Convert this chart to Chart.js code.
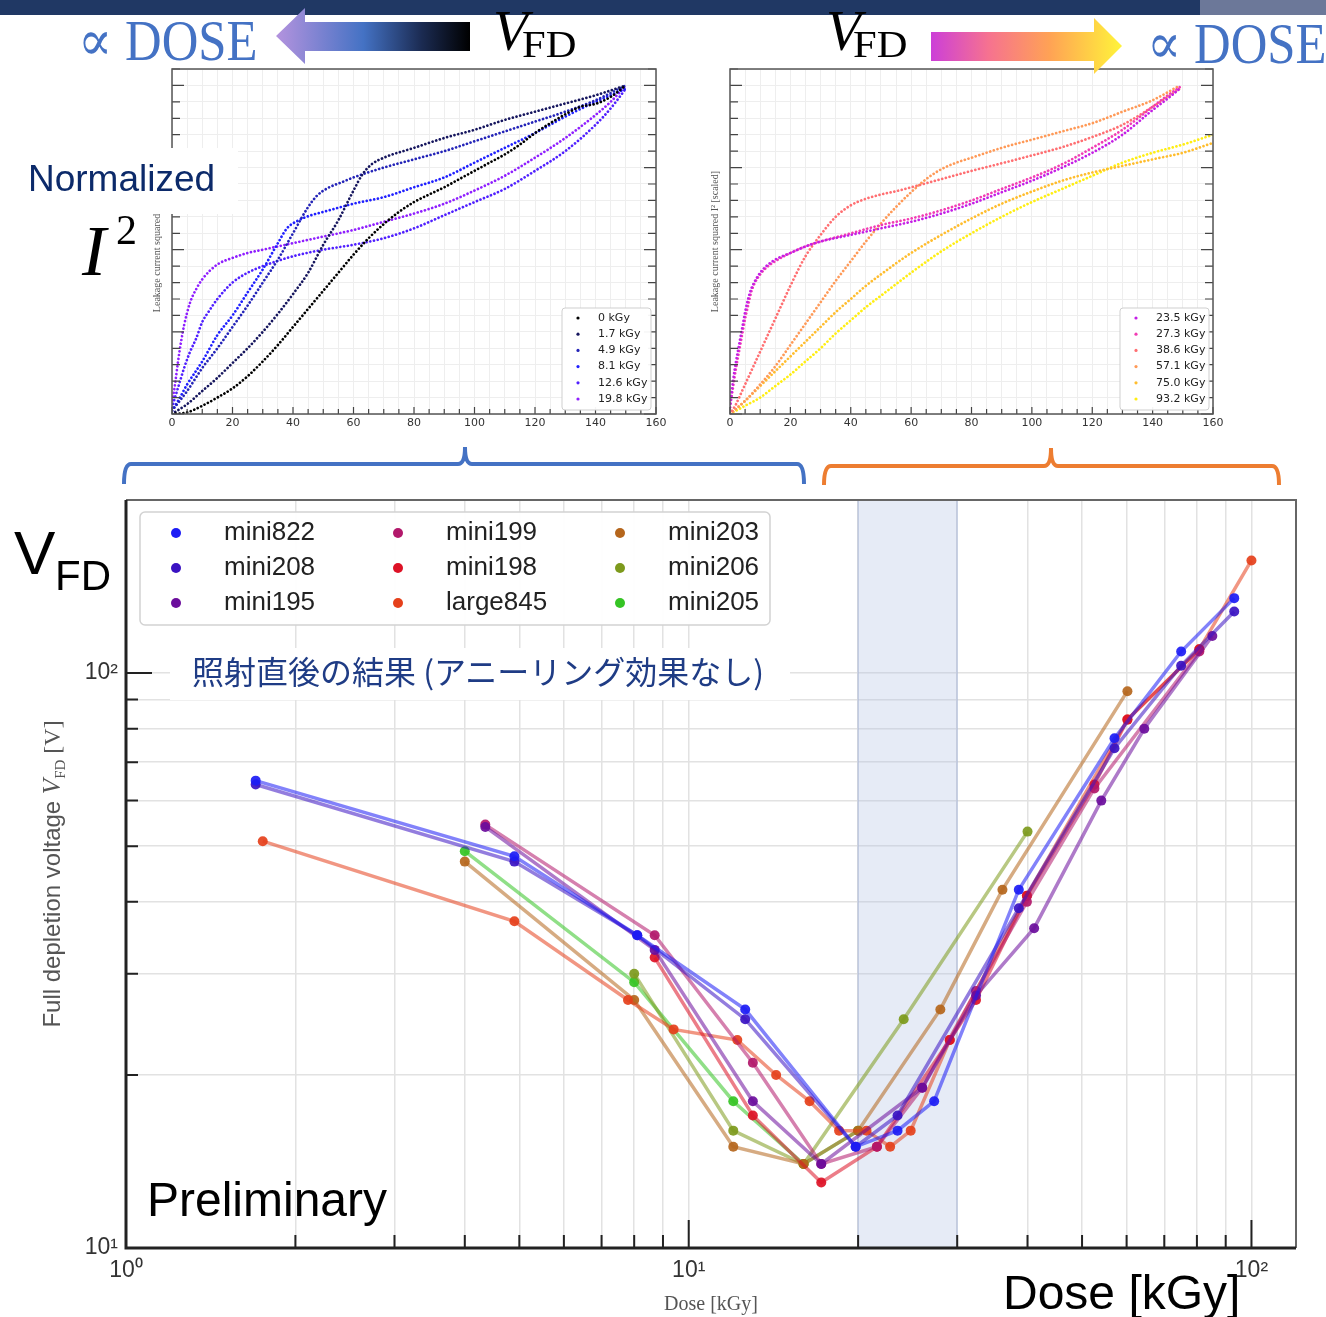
<!DOCTYPE html>
<html>
<head>
<meta charset="utf-8">
<script src="https://cdn.jsdelivr.net/npm/chart.js@4.4.1/dist/chart.umd.min.js"></script>
<style>
  html, body { margin: 0; padding: 0; background: #fff; }
  body { width: 1326px; height: 1317px; position: relative; overflow: hidden; font-family: "Liberation Sans", Arial, sans-serif; }
  canvas, .abs { position: absolute; }
  .t { position: absolute; white-space: nowrap; line-height: 1; }
  .serif { font-family: "Liberation Serif", "DejaVu Serif", serif; }
</style>
</head>
<body>
<div class="abs" style="left:0;top:0;width:1200px;height:15px;background:#203864"></div>
<div class="abs" style="left:1200px;top:0;width:126px;height:15px;background:#6c7899"></div>

<canvas id="ivLow" width="530" height="380" style="left:140px;top:60px"></canvas>
<canvas id="ivHigh" width="530" height="380" style="left:700px;top:60px"></canvas>
<canvas id="vfd" width="1326" height="827" style="left:0;top:490px"></canvas>

<svg class="abs" style="left:0;top:0" width="1326" height="1317">
  <defs>
    <linearGradient id="gL" gradientUnits="userSpaceOnUse" x1="276" y1="0" x2="470" y2="0">
      <stop offset="0" stop-color="#b493de"/>
      <stop offset="0.45" stop-color="#4472c4"/>
      <stop offset="0.75" stop-color="#1b2b52"/>
      <stop offset="1" stop-color="#000"/>
    </linearGradient>
    <linearGradient id="gR" gradientUnits="userSpaceOnUse" x1="931" y1="0" x2="1122" y2="0">
      <stop offset="0" stop-color="#cc3fd8"/>
      <stop offset="0.3" stop-color="#f67290"/>
      <stop offset="0.62" stop-color="#ffa255"/>
      <stop offset="1" stop-color="#fff43a"/>
    </linearGradient>
  </defs>
  <polygon points="276,36 305,8 305,22 470,22 470,51 305,51 305,64" fill="url(#gL)"/>
  <polygon points="931,32 1094,32 1094,18 1122,46 1094,74 1094,61 931,61" fill="url(#gR)"/>
  <path d="M124,484 Q124,464 131,464 L458,464 Q465,464 465,447 Q465,464 472,464 L797,464 Q804,464 804,484" fill="none" stroke="#4472c4" stroke-width="4"/>
  <path d="M824,485 Q824,466 831,466 L1044,466 Q1051,466 1051,448 Q1051,466 1058,466 L1272,466 Q1279,466 1279,485" fill="none" stroke="#ed7d31" stroke-width="4"/>
</svg>

<div class="t serif" style="left:78px;top:12px;font-size:57px;color:#4472c4;transform:scaleX(0.89);transform-origin:0 0">∝ DOSE</div>
<div class="t serif" style="left:1147px;top:15px;font-size:57px;color:#4472c4;transform:scaleX(0.89);transform-origin:0 0">∝ DOSE</div>
<div class="t serif" style="left:493px;top:2px;font-size:57px;font-style:italic">V</div>
<div class="t serif" style="left:522px;top:26px;font-size:37px;transform:scaleX(1.15);transform-origin:0 0">FD</div>
<div class="t serif" style="left:826px;top:2px;font-size:57px;font-style:italic">V</div>
<div class="t serif" style="left:853px;top:26px;font-size:37px;transform:scaleX(1.15);transform-origin:0 0">FD</div>

<div class="abs" style="left:0;top:148px;width:238px;height:66px;background:#fff"></div>
<div class="t" style="left:28px;top:160px;font-size:37px;color:#0c2a6a">Normalized</div>
<div class="t serif" style="left:82px;top:215px;font-size:72px;font-style:italic">I</div>
<div class="t serif" style="left:116px;top:209px;font-size:42px">2</div>

<div class="t" style="left:14px;top:522px;font-size:62px">V</div>
<div class="t" style="left:55px;top:555px;font-size:42px">FD</div>

<div class="abs" style="left:170px;top:648px;width:620px;height:52px;background:#fff"></div>
<div class="t" style="left:192px;top:654px;font-size:32px;color:#1f3c85;font-family:'Noto Sans CJK JP',sans-serif">照射直後の結果 (アニーリング効果なし)</div>

<div class="t" style="left:147px;top:1176px;font-size:48px">Preliminary</div>
<div class="t" style="left:1003px;top:1269px;font-size:48px">Dose [kGy]</div>

<script>
// ---------- top panels: normalised I^2 vs bias voltage ----------
const topXLabels = [0, 20, 40, 60, 80, 100, 120, 140, 160];

const lowNames = ["0 kGy", "1.7 kGy", "4.9 kGy", "8.1 kGy", "12.6 kGy", "19.8 kGy"];
const lowColors = ["#000000", "#16165e", "#2424b8", "#2020ff", "#5020ff", "#8f1fff"];
const v_0 = [0, 5, 10, 15, 20, 25, 30, 35, 40, 45, 50, 55, 60, 65, 70, 75, 80, 85, 90, 95, 100, 105, 110, 115, 120, 125, 130, 135, 140, 145, 150];
const i2_0 = [0, 0.005, 0.025, 0.05, 0.078, 0.115, 0.16, 0.21, 0.265, 0.32, 0.375, 0.43, 0.485, 0.535, 0.578, 0.615, 0.645, 0.668, 0.69, 0.715, 0.74, 0.765, 0.79, 0.82, 0.855, 0.885, 0.912, 0.935, 0.944, 0.965, 1.0];
const v_1p7 = [0, 5, 10, 15, 20, 25, 30, 35, 40, 45, 50, 55, 60, 63, 66, 70, 80, 90, 100, 110, 120, 130, 140, 150];
const i2_1p7 = [0, 0.03, 0.07, 0.11, 0.155, 0.2, 0.25, 0.305, 0.365, 0.43, 0.515, 0.59, 0.68, 0.73, 0.76, 0.78, 0.81, 0.84, 0.865, 0.895, 0.92, 0.945, 0.97, 1.0];
const v_4p9 = [0, 5, 10, 15, 20, 25, 30, 35, 40, 45, 48, 52, 56, 60, 70, 80, 90, 100, 110, 120, 130, 140, 150];
const i2_4p9 = [0.01, 0.07, 0.14, 0.2, 0.265, 0.33, 0.4, 0.47, 0.55, 0.63, 0.665, 0.69, 0.705, 0.72, 0.75, 0.775, 0.8, 0.83, 0.86, 0.89, 0.92, 0.955, 1.0];
const v_8p1 = [0, 2, 5, 10, 15, 20, 25, 30, 35, 38, 42, 46, 50, 60, 70, 80, 90, 100, 110, 120, 130, 140, 150];
const i2_8p1 = [0.01, 0.04, 0.09, 0.16, 0.24, 0.3, 0.37, 0.44, 0.52, 0.565, 0.59, 0.605, 0.615, 0.64, 0.66, 0.69, 0.72, 0.765, 0.81, 0.855, 0.905, 0.95, 0.99];
const v_12p6 = [0, 2, 4, 6, 8, 10, 12, 15, 20, 25, 30, 40, 50, 60, 70, 80, 90, 100, 110, 120, 130, 140, 145, 150];
const i2_12p6 = [0.02, 0.08, 0.14, 0.19, 0.23, 0.28, 0.31, 0.35, 0.4, 0.43, 0.45, 0.48, 0.5, 0.515, 0.535, 0.565, 0.605, 0.645, 0.685, 0.74, 0.8, 0.88, 0.93, 0.99];
const v_19p8 = [0, 1, 2, 3, 4, 6, 8, 10, 15, 20, 25, 30, 40, 50, 60, 70, 80, 90, 100, 110, 120, 130, 140, 145, 150];
const i2_19p8 = [0.03, 0.09, 0.16, 0.22, 0.27, 0.34, 0.38, 0.41, 0.455, 0.475, 0.49, 0.5, 0.52, 0.54, 0.56, 0.585, 0.61, 0.64, 0.68, 0.725, 0.78, 0.84, 0.91, 0.95, 1.0];

const highNames = ["23.5 kGy", "27.3 kGy", "38.6 kGy", "57.1 kGy", "75.0 kGy", "93.2 kGy"];
const highColors = ["#c41ee6", "#f23cb4", "#ff6f72", "#ff9a58", "#ffbd2e", "#ffee12"];
const v_23p5 = [0, 1, 2, 3, 4, 5, 6, 7, 8, 10, 12, 15, 20, 25, 30, 40, 50, 60, 70, 80, 90, 100, 110, 120, 130, 140, 145, 149];
const i2_23p5 = [0.02, 0.1, 0.16, 0.21, 0.26, 0.31, 0.35, 0.38, 0.4, 0.43, 0.45, 0.47, 0.49, 0.51, 0.525, 0.545, 0.565, 0.585, 0.61, 0.64, 0.675, 0.71, 0.75, 0.795, 0.85, 0.925, 0.96, 0.99];
const v_27p3 = [0, 1, 2, 3, 4, 5, 6, 7, 8, 10, 12, 15, 20, 25, 30, 40, 50, 60, 70, 80, 90, 100, 110, 120, 130, 140, 145, 149];
const i2_27p3 = [0.02, 0.08, 0.14, 0.19, 0.24, 0.29, 0.33, 0.37, 0.395, 0.425, 0.445, 0.465, 0.49, 0.51, 0.525, 0.55, 0.575, 0.595, 0.62, 0.65, 0.685, 0.72, 0.76, 0.81, 0.865, 0.935, 0.97, 0.995];
const v_38p6 = [0, 2, 4, 6, 8, 10, 12, 15, 20, 25, 30, 35, 40, 45, 50, 55, 60, 70, 80, 90, 100, 110, 120, 130, 140, 149];
const i2_38p6 = [0, 0.03, 0.07, 0.11, 0.15, 0.19, 0.23, 0.29, 0.39, 0.48, 0.545, 0.6, 0.635, 0.655, 0.668, 0.678, 0.69, 0.715, 0.74, 0.763, 0.787, 0.812, 0.843, 0.88, 0.935, 0.99];
const v_57p1 = [0, 5, 10, 15, 20, 25, 30, 35, 40, 45, 50, 55, 60, 65, 70, 75, 80, 90, 100, 110, 120, 130, 140, 149];
const i2_57p1 = [0, 0.04, 0.09, 0.145, 0.21, 0.275, 0.34, 0.405, 0.465, 0.525, 0.58, 0.63, 0.675, 0.715, 0.745, 0.765, 0.78, 0.81, 0.835, 0.86, 0.885, 0.92, 0.955, 1.0];
const v_75p0 = [0, 5, 10, 15, 20, 25, 30, 35, 40, 45, 50, 60, 70, 80, 90, 100, 110, 120, 130, 140, 150, 160];
const i2_75p0 = [0, 0.04, 0.085, 0.13, 0.175, 0.22, 0.265, 0.31, 0.35, 0.39, 0.425, 0.49, 0.545, 0.595, 0.64, 0.677, 0.71, 0.735, 0.755, 0.775, 0.795, 0.825];
const v_93p2 = [0, 5, 10, 15, 20, 25, 30, 35, 40, 45, 50, 60, 70, 80, 90, 100, 110, 120, 130, 140, 150, 160];
const i2_93p2 = [0, 0.025, 0.05, 0.085, 0.12, 0.16, 0.2, 0.245, 0.285, 0.325, 0.36, 0.43, 0.495, 0.55, 0.6, 0.645, 0.685, 0.725, 0.765, 0.795, 0.82, 0.85];

// ---------- bottom panel: V_FD vs dose ----------
const mini822Dose = [1.7, 4.9, 8.1, 12.6, 19.8, 23.5, 27.3, 38.6, 57.1, 75.0, 93.2];
const mini822Vfd = [65, 48, 35, 26, 15, 16, 18, 42, 77, 109, 135];
const mini208Dose = [1.7, 4.9, 8.1, 12.6, 19.8, 23.5, 38.6, 57.1, 75.0, 93.2];
const mini208Vfd = [64, 47, 35, 25, 15, 17, 39, 74, 103, 128];
const mini195Dose = [4.35, 8.7, 13.0, 17.2, 26.0, 32.4, 41.1, 54.1, 64.5, 85.2];
const mini195Vfd = [54, 33, 18, 14, 19, 27.5, 36, 60, 80, 116];
const mini199Dose = [4.35, 8.7, 13.0, 17.2, 21.6, 26.0, 32.4, 39.9, 52.6, 80.8];
const mini199Vfd = [54.5, 35, 21, 14, 15, 19, 28, 40, 63, 109];
const mini198Dose = [8.7, 13.0, 17.2, 21.6, 29.1, 32.4, 39.9, 52.6, 60.2, 80.8];
const mini198Vfd = [32, 17, 13, 15, 23, 27, 41, 64, 83, 110];
const large845Dose = [1.75, 4.9, 7.8, 9.4, 12.2, 14.3, 16.4, 18.5, 20.7, 22.8, 24.8, 29.1, 39.9, 60.2, 80.8, 100];
const large845Vfd = [51, 37, 27, 24, 23, 20, 18, 16, 16, 15, 16, 23, 41, 83, 110, 157];
const mini203Dose = [4.0, 8.0, 12.0, 16.0, 20.0, 28.0, 36.1, 60.2];
const mini203Vfd = [47, 27, 15, 14, 16, 26, 42, 93];
const mini206Dose = [8.0, 12.0, 16.0, 24.1, 40.0];
const mini206Vfd = [30, 16, 14, 25, 53];
const mini205Dose = [4.0, 8.0, 12.0, 16.0, 20.0];
const mini205Vfd = [49, 29, 18, 14, 16];

const sensorNames = ["mini822", "mini208", "mini195", "mini199", "mini198", "large845", "mini203", "mini206", "mini205"];
const sensorColors = ["#1c1cf5", "#3a12c2", "#6b0d9c", "#b2186b", "#dd1226", "#e5401b", "#b5661c", "#7d9a1c", "#35c424"];

const doseTicks = [1, 2, 3, 4, 5, 6, 7, 8, 9, 10, 20, 30, 40, 50, 60, 70, 80, 90, 100];
const doseTickLabels = { 1: "10\u2070", 10: "10\u00b9", 100: "10\u00b2" };
const vfdTicks = [10, 20, 30, 40, 50, 60, 70, 80, 90, 100, 200];
const vfdTickLabels = { 10: "10\u00b9", 100: "10\u00b2" };
const annealBand = [20, 30];

Chart.defaults.font.family = '"Liberation Sans", Arial, sans-serif';
Chart.defaults.animation = false;

function pts(xs, ys) {
    return xs.map((x, i) => ({ x: x, y: ys[i] }));
}
function alpha(hex, a) {
    const n = parseInt(hex.slice(1), 16);
    return "rgba(" + (n >> 16) + "," + ((n >> 8) & 255) + "," + (n & 255) + "," + a + ")";
}
// keep the plot area where the layout padding puts it
function fixWidth(w) {
    return (s) => { s.width = w; s.paddingTop = 0; s.paddingBottom = 0; };
}
function fixHeight(h) {
    return (s) => { s.height = h; s.paddingLeft = 0; s.paddingRight = 0; };
}

// legend drawn inside the plot, laid out column by column
const boxLegend = {
    id: "boxLegend",
    afterDraw(chart, args, o) {
        const ctx = chart.ctx;
        ctx.save();
        ctx.fillStyle = "rgba(255,255,255,0.95)";
        ctx.strokeStyle = o.border;
        ctx.lineWidth = o.lineWidth;
        ctx.beginPath();
        if (ctx.roundRect) ctx.roundRect(o.x, o.y, o.w, o.h, o.radius);
        else ctx.rect(o.x, o.y, o.w, o.h);
        ctx.fill();
        ctx.stroke();
        ctx.font = o.font;
        ctx.textBaseline = "middle";
        chart.data.datasets.forEach((ds, i) => {
            const col = Math.floor(i / o.rows);
            const row = i % o.rows;
            const cx = o.x + o.dotX + col * o.colW;
            const cy = o.y + o.rowY0 + row * o.rowH;
            ctx.fillStyle = ds.legendColor;
            ctx.beginPath();
            ctx.arc(cx, cy, o.dotR, 0, Math.PI * 2);
            ctx.fill();
            ctx.fillStyle = o.color;
            ctx.fillText(ds.label, cx + o.textGap, cy);
        });
        ctx.restore();
    },
};

// frame with inward ticks for the I^2 panels
const topFrame = {
    id: "topFrame",
    afterDatasetsDraw(chart) {
        const { ctx, chartArea: a, scales } = chart;
        ctx.save();
        ctx.strokeStyle = "#444";
        ctx.lineWidth = 1.2;
        ctx.beginPath();
        scales.x.ticks.forEach((t) => {
            const px = scales.x.getPixelForValue(t.value);
            ctx.moveTo(px, a.bottom);
            ctx.lineTo(px, a.bottom - (t.value % 20 === 0 ? 7 : 5));
        });
        scales.y.ticks.forEach((t, k) => {
            const py = scales.y.getPixelForValue(t.value);
            const len = k % 5 === 0 ? 12 : 8;
            ctx.moveTo(a.left, py);
            ctx.lineTo(a.left + len, py);
            ctx.moveTo(a.right, py);
            ctx.lineTo(a.right - len, py);
        });
        ctx.stroke();
        ctx.strokeStyle = "#555";
        ctx.lineWidth = 1.5;
        ctx.strokeRect(a.left, a.top, a.right - a.left, a.bottom - a.top);
        ctx.restore();
    },
};

function ivChart(id, names, colors, volts, vals, axisW, padRight, titlePad, legendX) {
    const datasets = names.map((name, i) => ({
        label: name,
        data: pts(volts[i], vals[i]),
        borderColor: colors[i],
        legendColor: colors[i],
        borderWidth: 2.7,
        borderDash: [0.01, 3.8],
        borderCapStyle: "round",
        cubicInterpolationMode: "monotone",
        pointRadius: 0,
        fill: false,
    }));
    return new Chart(document.getElementById(id), {
        type: "line",
        data: { datasets: datasets },
        options: {
            responsive: false,
            layout: { padding: { top: 9, right: padRight, left: 0, bottom: 0 } },
            plugins: {
                legend: { display: false },
                tooltip: { enabled: false },
                boxLegend: {
                    x: legendX, y: 248, w: 89, h: 102, radius: 3, border: "#cfcfcf", lineWidth: 1,
                    rows: 6, colW: 0, dotX: 16, rowY0: 10, rowH: 16.2, dotR: 1.6, textGap: 20,
                    font: '11px "DejaVu Sans"', color: "#222",
                },
            },
            scales: {
                x: {
                    type: "linear", min: 0, max: 160,
                    afterBuildTicks: (s) => {
                        const t = [];
                        for (let v = 0; v <= 160; v += 5) t.push({ value: v });
                        s.ticks = t;
                    },
                    afterFit: fixHeight(26),
                    grid: { color: "#eeeeee", lineWidth: 1, drawTicks: false },
                    border: { display: false },
                    ticks: {
                        autoSkip: false, maxRotation: 0, padding: 3, color: "#333",
                        font: { family: "DejaVu Sans", size: 11 },
                        callback: (v) => (topXLabels.includes(v) ? String(v) : ""),
                    },
                },
                y: {
                    type: "linear", min: 0, max: 1.05,
                    afterBuildTicks: (s) => {
                        const t = [];
                        for (let k = 0; k <= 21; k++) t.push({ value: k * 0.05 });
                        s.ticks = t;
                    },
                    afterFit: fixWidth(axisW),
                    grid: { color: "#eeeeee", lineWidth: 1, drawTicks: false },
                    border: { display: false },
                    ticks: { display: false },
                    title: {
                        display: true, text: "Leakage current squared I\u00b2 [scaled]", color: "#555",
                        font: { family: "Liberation Serif", size: 10 }, padding: { top: titlePad, bottom: 0 },
                    },
                },
            },
        },
        plugins: [topFrame, boxLegend],
    });
}

ivChart("ivLow", lowNames, lowColors,
    [v_0, v_1p7, v_4p9, v_8p1, v_12p6, v_19p8],
    [i2_0, i2_1p7, i2_4p9, i2_8p1, i2_12p6, i2_19p8], 32, 14, 11, 422);
ivChart("ivHigh", highNames, highColors,
    [v_23p5, v_27p3, v_38p6, v_57p1, v_75p0, v_93p2],
    [i2_23p5, i2_27p3, i2_38p6, i2_57p1, i2_75p0, i2_93p2], 30, 17, 9, 420);

// ---------- V_FD chart ----------
const bandPlugin = {
    id: "band",
    beforeDatasetsDraw(chart) {
        const { ctx, chartArea: a, scales: { x } } = chart;
        const x0 = x.getPixelForValue(annealBand[0]);
        const x1 = x.getPixelForValue(annealBand[1]);
        ctx.save();
        ctx.fillStyle = "rgba(176,192,226,0.32)";
        ctx.fillRect(x0, a.top, x1 - x0, a.bottom - a.top);
        ctx.strokeStyle = "rgba(150,168,210,0.45)";
        ctx.lineWidth = 1.5;
        ctx.beginPath();
        ctx.moveTo(x0, a.top); ctx.lineTo(x0, a.bottom);
        ctx.moveTo(x1, a.top); ctx.lineTo(x1, a.bottom);
        ctx.stroke();
        ctx.restore();
    },
};

const logFrame = {
    id: "logFrame",
    afterDatasetsDraw(chart) {
        const { ctx, chartArea: a, scales: { x, y } } = chart;
        ctx.save();
        ctx.strokeStyle = "#666";
        ctx.lineWidth = 2;
        ctx.beginPath();
        ctx.moveTo(a.left, a.top); ctx.lineTo(a.right, a.top); ctx.lineTo(a.right, a.bottom);
        ctx.stroke();
        ctx.strokeStyle = "#222";
        ctx.lineWidth = 2;
        ctx.beginPath();
        x.ticks.forEach((t) => {
            const px = x.getPixelForValue(t.value);
            ctx.moveTo(px, a.bottom);
            ctx.lineTo(px, a.bottom - (doseTickLabels[t.value] ? 28 : 13));
        });
        y.ticks.forEach((t) => {
            if (t.value >= 200) return;
            const py = y.getPixelForValue(t.value);
            ctx.moveTo(a.left, py);
            ctx.lineTo(a.left + (vfdTickLabels[t.value] ? 26 : 12), py);
        });
        ctx.stroke();
        ctx.lineWidth = 3;
        ctx.beginPath();
        ctx.moveTo(a.left, a.top); ctx.lineTo(a.left, a.bottom); ctx.lineTo(a.right, a.bottom);
        ctx.stroke();
        ctx.restore();
    },
};

const yTitleSub = {
    id: "yTitleSub",
    afterDraw(chart, args, o) {
        const { ctx, chartArea: a } = chart;
        const parts = [
            { t: "Full depletion voltage ", f: '24px "Liberation Sans"', dy: 0 },
            { t: "V", f: 'italic 25px "Liberation Serif"', dy: 0 },
            { t: "FD", f: '15px "Liberation Serif"', dy: 5 },
            { t: " [V]", f: '24px "Liberation Serif"', dy: 0 },
        ];
        ctx.save();
        let total = 0;
        parts.forEach((p) => { ctx.font = p.f; p.w = ctx.measureText(p.t).width; total += p.w; });
        ctx.translate(o.x, (a.top + a.bottom) / 2);
        ctx.rotate(-Math.PI / 2);
        ctx.fillStyle = o.color;
        ctx.textBaseline = "alphabetic";
        let cx = -total / 2;
        parts.forEach((p) => {
            ctx.font = p.f;
            ctx.fillText(p.t, cx, 9 + p.dy);
            cx += p.w;
        });
        ctx.restore();
    },
};

const doseSeries = [
    [mini822Dose, mini822Vfd], [mini208Dose, mini208Vfd], [mini195Dose, mini195Vfd],
    [mini199Dose, mini199Vfd], [mini198Dose, mini198Vfd], [large845Dose, large845Vfd],
    [mini203Dose, mini203Vfd], [mini206Dose, mini206Vfd], [mini205Dose, mini205Vfd],
];

new Chart(document.getElementById("vfd"), {
    type: "line",
    data: {
        datasets: sensorNames.map((name, i) => ({
            label: name,
            data: pts(doseSeries[i][0], doseSeries[i][1]),
            borderColor: alpha(sensorColors[i], 0.55),
            backgroundColor: alpha(sensorColors[i], 0.92),
            legendColor: sensorColors[i],
            borderWidth: 3.5,
            pointRadius: 5,
            pointBorderWidth: 0,
            tension: 0,
            fill: false,
        })),
    },
    options: {
        responsive: false,
        layout: { padding: { top: 10, right: 30, left: 0, bottom: 0 } },
        plugins: {
            legend: { display: false },
            tooltip: { enabled: false },
            boxLegend: {
                x: 140, y: 22, w: 630, h: 113, radius: 5, border: "#d2d2d2", lineWidth: 1.5,
                rows: 3, colW: 222, dotX: 36, rowY0: 21, rowH: 35, dotR: 5, textGap: 48,
                font: '26px "Liberation Sans"', color: "#222",
            },
            yTitleSub: { x: 51, color: "#555" },
        },
        scales: {
            x: {
                type: "logarithmic", min: 1, max: 120,
                afterBuildTicks: (s) => { s.ticks = doseTicks.map((v) => ({ value: v })); },
                afterFit: fixHeight(69),
                grid: { color: "#e2e2e2", lineWidth: 1.5, drawTicks: false },
                border: { display: false },
                ticks: {
                    autoSkip: false, maxRotation: 0, padding: 9, color: "#333",
                    font: { size: 23 },
                    callback: (v) => doseTickLabels[v] || "",
                },
                title: {
                    display: true, text: "Dose [kGy]", color: "#555",
                    font: { family: "Liberation Serif", size: 20 }, padding: { top: 0, bottom: 0 },
                },
            },
            y: {
                type: "logarithmic", min: 10, max: 200,
                afterBuildTicks: (s) => { s.ticks = vfdTicks.map((v) => ({ value: v })); },
                afterFit: fixWidth(126),
                grid: { color: "#e2e2e2", lineWidth: 1.5, drawTicks: false },
                border: { display: false },
                ticks: {
                    autoSkip: false, padding: 8, color: "#333",
                    font: { size: 23 },
                    callback: (v) => vfdTickLabels[v] || "",
                },
            },
        },
    },
    plugins: [bandPlugin, logFrame, yTitleSub, boxLegend],
});
</script>
</body>
</html>
